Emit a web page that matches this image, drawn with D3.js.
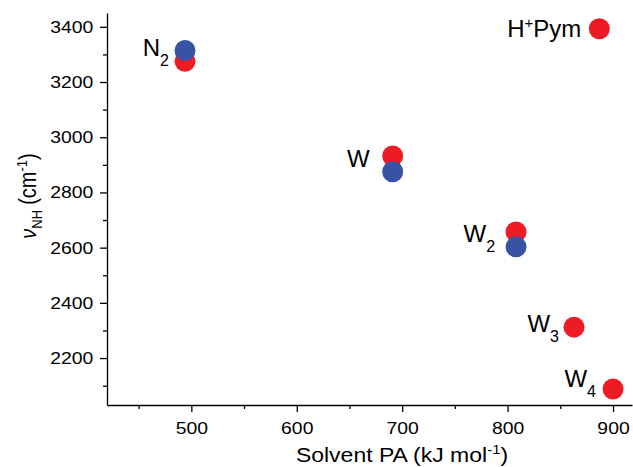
<!DOCTYPE html>
<html lang="en">
	<head>
		<meta charset="utf-8">
		<title>NH stretch vs solvent PA</title>
		<script type="text/javascript" src="https://cdn.jsdelivr.net/npm/d3@7"></script>
		<style type="text/css">
			body { margin: 0; background: #fff; }
			text { font-family: "Liberation Sans", Arial, sans-serif; fill: #000; }
		</style>
	</head>
	<body>
		<script type="text/javascript">

			//Data
			let solventNames = ["N", "W", "W", "W", "W", "H"];
			let solventSubs  = ["2", "", "2", "3", "4", ""];
			let solventPA    = [494, 691, 808, 863, 900, 887];
			let nuRed        = [3275, 2932, 2657, 2312, 2088, 3393];
			let nuBlue       = [3314, 2875, 2603, null, null, null];
			let xTicks = [500, 600, 700, 800, 900];
			let yTicks = [2200, 2400, 2600, 2800, 3000, 3200, 3400];

			//Label placement relative to the red point (px)
			let labelDx = [-16, -23, -21, -15, -17, -18];
			let labelDy = [-5, 11, 10, 5, -2, 8];

			let w = 633;
			let h = 467;
			let mLeft = 107, mRight = 632, mTop = 13, mBottom = 405;

			let svg = d3.select("body")
						.append("svg")
						  .attr("width", w)
						  .attr("height", h);

			let x = d3.scaleLinear().domain([420, 918]).range([mLeft, mRight]);
			let y = d3.scaleLinear().domain([2030, 3450]).range([mBottom, mTop]);

			//Minor ticks first
			svg.append("g")
				.attr("transform", `translate(0,${mBottom})`)
				.call(d3.axisBottom(x).tickValues([450, 550, 650, 750, 850]).tickSize(4).tickSizeOuter(0).tickFormat(""))
				.call(g => g.select(".domain").remove())
				.selectAll("line").attr("stroke", "#000").attr("stroke-width", 1.3);
			svg.append("g")
				.attr("transform", `translate(${mLeft},0)`)
				.call(d3.axisLeft(y).tickValues([2100, 2300, 2500, 2700, 2900, 3100, 3300]).tickSize(4).tickSizeOuter(0).tickFormat(""))
				.call(g => g.select(".domain").remove())
				.selectAll("line").attr("stroke", "#000").attr("stroke-width", 1.3);

			//Major axes
			let xAxis = svg.append("g")
				.attr("transform", `translate(0,${mBottom})`)
				.call(d3.axisBottom(x).tickValues(xTicks).tickFormat(d3.format("d")).tickSize(7).tickPadding(10).tickSizeOuter(0));
			let yAxis = svg.append("g")
				.attr("transform", `translate(${mLeft},0)`)
				.call(d3.axisLeft(y).tickValues(yTicks).tickFormat(d3.format("d")).tickSize(7).tickPadding(5).tickSizeOuter(0));

			[xAxis, yAxis].forEach(a => {
				a.selectAll("path, line").attr("stroke", "#000").attr("stroke-width", 1.3);
				a.selectAll("text")
					.attr("font-size", 17)
					.attr("font-family", "'Liberation Sans', Arial, sans-serif")
					.attr("transform", "scale(1.14,1)");
			});

			//Axis titles
			let xt = svg.append("text")
				.attr("transform", "translate(402,462) scale(1.15,1)")
				.attr("text-anchor", "middle")
				.attr("font-size", 20);
			xt.append("tspan").text("Solvent PA (kJ mol");
			xt.append("tspan").attr("font-size", 13).attr("dy", -8).text("-1");
			xt.append("tspan").attr("dy", 8).text(")");

			let yt = svg.append("text")
				.attr("transform", "translate(36,196) scale(1.15,1) rotate(-90)")
				.attr("text-anchor", "middle")
				.attr("font-size", 20);
			yt.append("tspan").attr("font-style", "italic").text("\u03bd");
			yt.append("tspan").attr("font-size", 13).attr("dy", 5).text("NH");
			yt.append("tspan").attr("dy", -5).attr("dx", 5).text("(cm");
			yt.append("tspan").attr("font-size", 13).attr("dy", -8).text("-1");
			yt.append("tspan").attr("dy", 8).text(")");

			//Points: red first, blue on top
			svg.selectAll("circle.red")
				.data(solventPA)
				.enter()
			  .append("circle")
				.attr("class", "red")
				.attr("cx", d => x(d))
				.attr("cy", (d, i) => y(nuRed[i]))
				.attr("r", 10.5)
				.style("fill", "#ED1C24");

			svg.selectAll("circle.blue")
				.data(solventPA.filter((d, i) => nuBlue[i] != null))
				.enter()
			  .append("circle")
				.attr("class", "blue")
				.attr("cx", d => x(d))
				.attr("cy", (d, i) => y(nuBlue[i]))
				.attr("r", 10.5)
				.style("fill", "#3953A4");

			//Point labels
			solventPA.forEach((pa, i) => {
				let t = svg.append("text")
					.attr("x", x(pa) + labelDx[i])
					.attr("y", y(nuRed[i]) + labelDy[i])
					.attr("text-anchor", "end")
					.attr("font-size", 24);
				t.append("tspan").text(solventNames[i]);
				if (solventSubs[i]) {
					t.append("tspan").attr("font-size", 16).attr("dy", 10).text(solventSubs[i]);
				}
				if (solventNames[i] == "H") {
					t.append("tspan").attr("font-size", 15).attr("dy", -9).text("+");
					t.append("tspan").attr("dy", 9).text("Pym");
				}
			});

		</script>
	</body>
</html>
